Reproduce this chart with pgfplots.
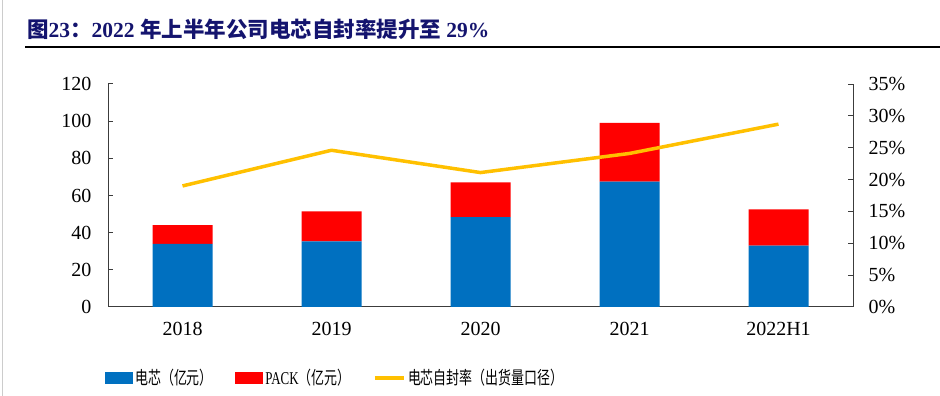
\documentclass[border=0pt]{standalone}
\usepackage{fontspec}
\setmainfont{Liberation Serif}
\newfontfamily\cjk{Noto Sans CJK SC}
\newfontfamily\cjkl{Noto Sans CJK SC}[FakeStretch=0.72]
\newfontfamily\serl{Liberation Serif}[FakeStretch=0.72]
\usepackage{pgfplots}
\usepackage{pgfplotstable}
\pgfplotsset{compat=1.18}
\definecolor{cblue}{HTML}{0070C0}
\definecolor{cred}{HTML}{FF0000}
\definecolor{cyel}{HTML}{FFC000}
\definecolor{navy}{RGB}{20,20,110}
\definecolor{axgray}{RGB}{60,60,60}
\pgfplotstableread{
x cell pack rate
0 34.0 10.1 19.0
1 35.3 16.1 24.6
2 48.4 18.6 21.1
3 67.4 31.7 24.1
4 33.0 19.5 28.7
}\data
\begin{document}
\begin{tikzpicture}
\path[use as bounding box] (0,0) rectangle (940pt,396pt);
\draw[gray!40, line width=0.8pt] (2pt,0) -- (2pt,396pt);
\node[anchor=base west, inner sep=0, text=navy, font=\fontsize{21.5}{24}\selectfont\bfseries] at (27pt,358pt) {{\cjk 图}23{\cjk ：}2022 {\cjk 年上半年公司电芯自封率提升至} 29\%};
\draw[black, line width=2pt] (25pt,349pt) -- (940pt,349pt);
\begin{axis}[
  at={(108pt,89pt)}, anchor=south west,
  scale only axis, width=745pt, height=223pt,
  ybar stacked, bar width=60pt,
  xmin=-0.5, xmax=4.5, ymin=0, ymax=120,
  axis x line*=bottom, axis y line*=left,
  axis line style={axgray, line width=1pt, -},
  every tick/.style={axgray, line width=1pt},
  major tick length=5pt,
  xtick={0,1,2,3,4},
  xticklabels={2018,2019,2020,2021,2022H1},
  x tick style={draw=none},
  extra x ticks={0.5,1.5,2.5,3.5},
  extra x tick labels={},
  extra x tick style={x tick style={axgray, line width=1pt}, major tick length=5pt},
  ytick={0,20,...,120},
  tick label style={font=\fontsize{20}{22}\selectfont},
  /pgf/number format/assume math mode=true,
  y tick label style={xshift=-13pt},
  x tick label style={yshift=-12pt},
]
\addplot[fill=cblue, draw=none] table[x=x, y=cell] {\data};
\addplot[fill=cred, draw=none] table[x=x, y=pack] {\data};
\end{axis}
\begin{axis}[
  at={(108pt,89pt)}, anchor=south west,
  scale only axis, width=745pt, height=223pt,
  xmin=-0.5, xmax=4.5, ymin=0, ymax=35,
  axis x line=none, axis y line*=right,
  axis line style={axgray, line width=1pt, -},
  every tick/.style={axgray, line width=1pt},
  major tick length=5pt,
  ytick={0,5,...,35},
  yticklabel={\pgfmathprintnumber{\tick}\%},
  tick label style={font=\fontsize{20}{22}\selectfont},
  /pgf/number format/assume math mode=true,
  y tick label style={xshift=12pt},
  legend style={at={(-0.004,-0.318)}, anchor=west, draw=none, fill=none,
    inner sep=0pt, font=\fontsize{18}{20}\selectfont,
    nodes={inner sep=2.5pt}},
  legend columns=3,
  legend cell align=left,
  /tikz/every even column/.append style={column sep=20pt},
]
\addlegendimage{legend image code/.code={\fill[cblue] (0pt,-5.5pt) rectangle (27pt,5.5pt);}}
\addlegendentry{\cjkl 电芯（亿元）}
\addlegendimage{legend image code/.code={\fill[cred] (0pt,-5.5pt) rectangle (27pt,5.5pt);}}
\addlegendentry{\serl PACK\cjkl （亿元）}
\addplot[cyel, line width=3.5pt, no markers, line join=round,
  legend image code/.code={\draw[cyel, line width=3.5pt] (0pt,0pt) -- (29pt,0pt);}]
  table[x=x, y=rate] {\data};
\addlegendentry{\cjkl 电芯自封率（出货量口径）}
\end{axis}
\end{tikzpicture}
\end{document}
